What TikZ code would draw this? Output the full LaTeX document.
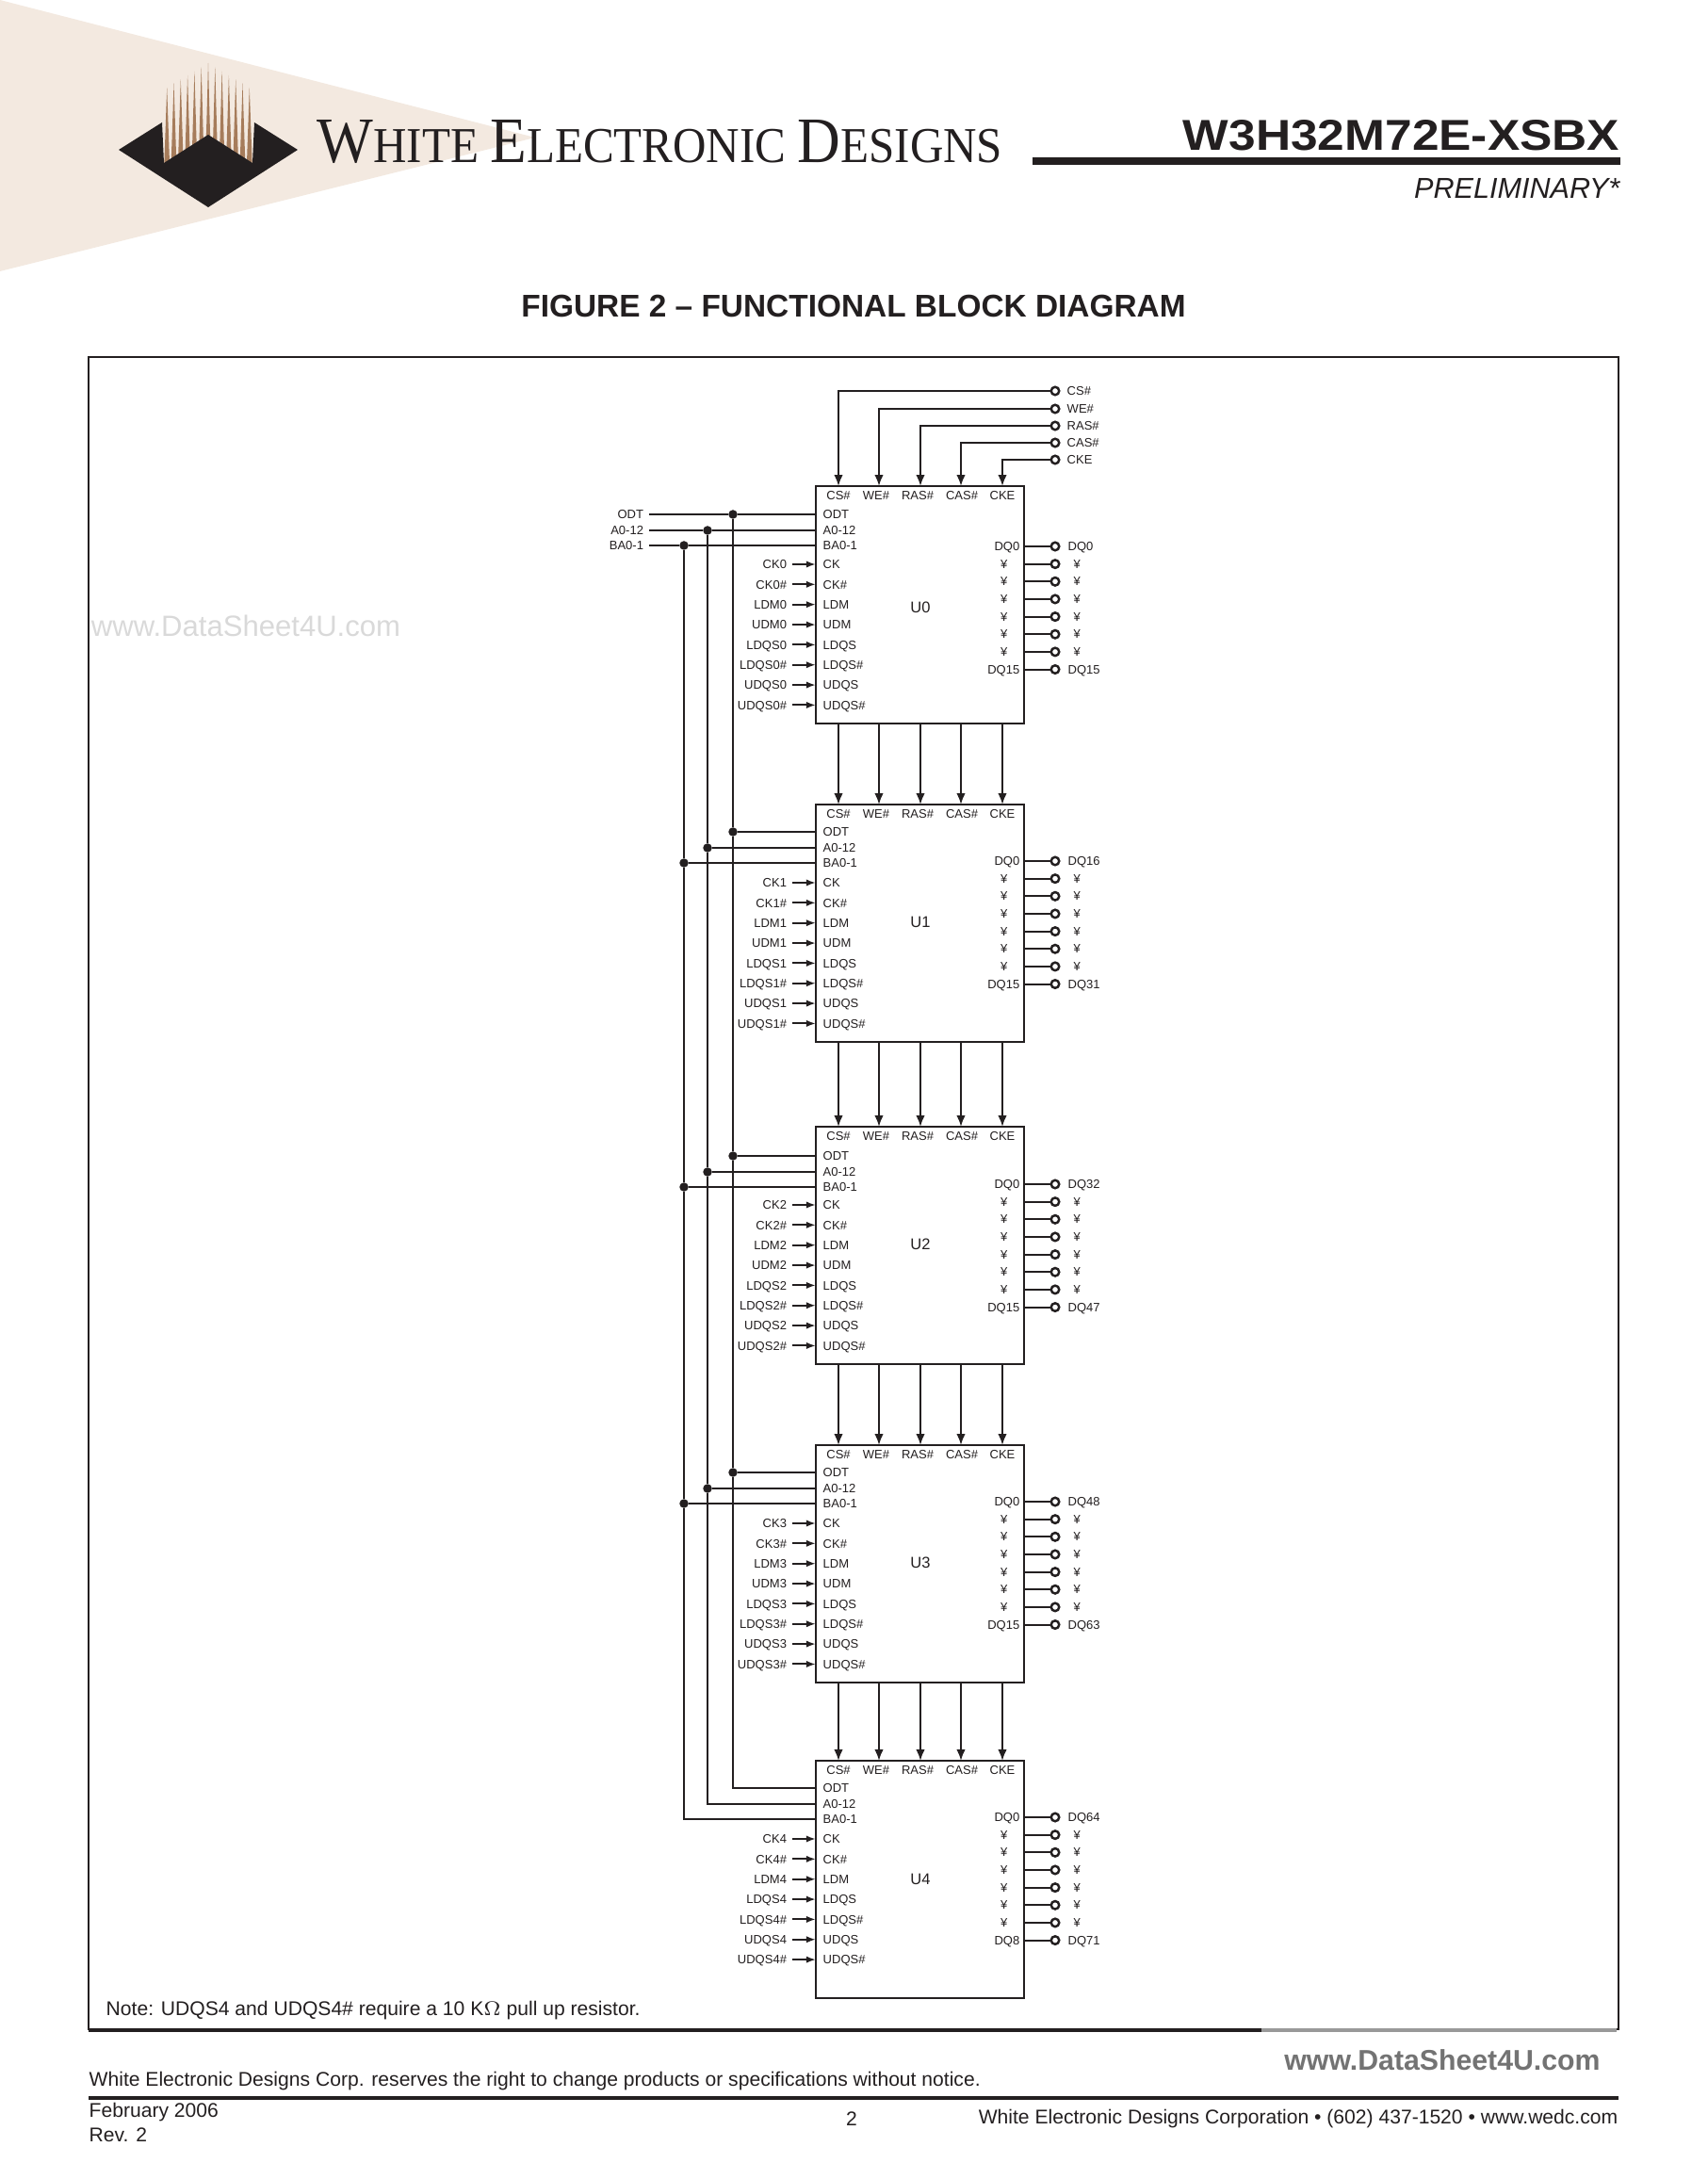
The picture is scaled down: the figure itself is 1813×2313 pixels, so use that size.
\documentclass[tikz,border=0pt]{standalone}
\usepackage{fontspec}
\setmainfont{Liberation Sans}
\newfontfamily\logofont{Liberation Serif}
\usetikzlibrary{arrows.meta}

\definecolor{inkblack}{HTML}{231F20}
\definecolor{wedgetan}{HTML}{F3E9E0}
\definecolor{spiketan}{HTML}{A67C5B}

\tikzset{
	chip/.style={draw=inkblack,line width=0.72pt,minimum width=2.21cm,minimum height=2.52cm,inner sep=0},
	pinlabel/.style={font=\fontsize{3.7}{4}\selectfont,text=inkblack,inner sep=0,text height=2.65pt,text depth=0pt},
	extlabel/.style={pinlabel,anchor=east,outer xsep=0.06cm,outer ysep=0},
	term/.style={circle,draw=inkblack,fill=white,line width=0.7pt,minimum size=0.085cm,inner sep=0},
	junction/.style={circle,fill=inkblack,minimum size=0.095cm,inner sep=0},
	wire/.style={draw=inkblack,line width=0.58pt},
	toparrow/.style={wire,-{Latex[length=3.4pt,width=2.7pt]}},
	sidearrow/.style={wire,-{Latex[length=2.9pt,width=2.1pt]}},
	pagetext/.style={inner sep=0,text=inkblack,font=\fontsize{6}{7}\selectfont},
}

\begin{document}
\begin{tikzpicture}[x=0.01cm,y=-0.01cm]
	\useasboundingbox (0,0) rectangle (1813,2313);

	% page header
	\fill[wedgetan] (0,0)--(568,146)--(0,288)--cycle;
	\foreach \i in {-6,...,6}
		\fill[spiketan] ({221+7.3*\i-3},178)--({221+7.3*\i},{67+4.3*abs(\i)})--({221+7.3*\i+3},178)--cycle;
	\fill[inkblack] (126,159)--(172,130)--(174,173)--(221,143)--(268,173)--(270,130)--(316,159)--(221,220)--cycle;
	\node[anchor=base west,inner sep=0,text=inkblack] (brand) at (336,173) {\resizebox{7.27cm}{0.45cm}{\logofont\fontsize{20}{20}\selectfont W\fontsize{15.5}{15.5}\selectfont HITE \fontsize{20}{20}\selectfont E\fontsize{15.5}{15.5}\selectfont LECTRONIC \fontsize{20}{20}\selectfont D\fontsize{15.5}{15.5}\selectfont ESIGNS}};
	\node[anchor=base east,inner sep=0,text=inkblack] (part) at (1720,160) {\resizebox{4.63cm}{0.32cm}{\bfseries W3H32M72E-XSBX}};
	\fill[inkblack] (1096,167) rectangle (1720,175);
	\node[pagetext,anchor=base east,font=\fontsize{8.7}{10}\selectfont\itshape] (status) at (1720,211) {PRELIMINARY*};
	\node[pagetext,anchor=base,font=\fontsize{9.5}{11}\selectfont\bfseries] (title) at (906,337) {FIGURE 2 -- FUNCTIONAL BLOCK DIAGRAM};
	\node[inner sep=0,text=black!15] (markone) at (261,664) {\resizebox{3.28cm}{!}{www.DataSheet4U.com}};

	% frame
	\draw[inkblack,line width=0.7pt] (94,379) rectangle (1718,2154);
	\draw[inkblack,line width=1.2pt] (94,2155)--(1339,2155);
	\draw[black!40,line width=1.2pt] (1339,2155)--(1716,2155);
	\node[pagetext,anchor=west] (note) at (112,2134) {Note: UDQS4 and UDQS4\# require a 10 K$\Omega$ pull up resistor.};

	% common control lines on top of U0
	\foreach \name/\key/\ypos in {CS\#/890/415,WE\#/933/434,RAS\#/977/452,CAS\#/1020/470,CKE/1064/488} {
		\node[term] (ctl\key) at (1120,\ypos) {};
		\node[pinlabel,anchor=west] (ctl\key-text) at (1132,\ypos) {\name};
	}

	% bus labels left of U0
	\node[extlabel] (odt) at (689,546) {ODT};
	\node[extlabel] (addr) at (689,563) {A0-12};
	\node[extlabel] (bank) at (689,579) {BA0-1};

	% the five devices
	\foreach \n/\ytop/\busy/\dqy/\namey/\dqlast/\dqfirst/\dqend in {0/516/30/64/129/DQ15/DQ0/DQ15,1/854/29/60/125/DQ15/DQ16/DQ31,2/1196/31/61/125/DQ15/DQ32/DQ47,3/1534/29/60/125/DQ15/DQ48/DQ63,4/1869/29/60/125/DQ8/DQ64/DQ71} {
		\node[chip] (u\n) at (976.5,\ytop+126) {};
		\node[pinlabel,font=\fontsize{4.7}{5}\selectfont,text height=3.4pt] (u\n-name) at (977,\ytop+\namey) {U\n};

		\foreach \name/\key/\lx in {CS\#/890/890,WE\#/933/930,RAS\#/977/974,CAS\#/1020/1021,CKE/1064/1064} {
			\coordinate (u\n-in\key) at (\key,\ytop);
			\coordinate (u\n-out\key) at (\key,\ytop+252);
			\node[pinlabel] (u\n-top\key) at (\lx,\ytop+10) {\name};
		}

		\foreach \name/\sig/\off in {ODT/odt/0,A0-12/addr/17,BA0-1/bank/33} {
			\coordinate (u\n-\sig) at (866,\ytop+\busy+\off);
			\node[pinlabel,anchor=west] (u\n-\sig-text) at (873,\ytop+\busy+\off) {\name};
		}

		\ifnum\n<4
			\def\pinlist{CK/,CK/\#,LDM/,UDM/,LDQS/,LDQS/\#,UDQS/,UDQS/\#}
		\else
			\def\pinlist{CK/,CK/\#,LDM/,LDQS/,LDQS/\#,UDQS/,UDQS/\#}
		\fi
		\foreach \stem/\tail [count=\i from 0] in \pinlist {
			\coordinate (u\n-pin\i) at (866,\ytop+83+21.35*\i);
			\node[extlabel] (u\n-ext\i) at (841,\ytop+83+21.35*\i) {\stem\n\tail};
			\node[pinlabel,anchor=west] (u\n-int\i) at (873,\ytop+83+21.35*\i) {\stem\tail};
			\draw[sidearrow] (u\n-ext\i) -- (u\n-pin\i);
		}

		\foreach \i/\dqin/\dqout/\ix/\ox in {0/DQ0/\dqfirst/1083/1133,1/¥/¥/1070/1139,2/¥/¥/1070/1139,3/¥/¥/1070/1139,4/¥/¥/1070/1139,5/¥/¥/1070/1139,6/¥/¥/1070/1139,7/\dqlast/\dqend/1083/1133} {
			\coordinate (u\n-dq\i) at (1087,\ytop+\dqy+18.65*\i);
			\node[term] (u\n-term\i) at (1120,\ytop+\dqy+18.65*\i) {};
			\node[pinlabel,anchor=east] (u\n-dqin\i) at (\ix,\ytop+\dqy+18.65*\i) {\dqin};
			\node[pinlabel,anchor=west] (u\n-dqout\i) at (\ox,\ytop+\dqy+18.65*\i) {\dqout};
			\draw[wire] (u\n-dq\i) -- (u\n-term\i);
		}
	}

	% junctions on the shared bus
	\foreach \sig/\x in {odt/778,addr/751,bank/726} {
		\foreach \n in {0,...,3} {
			\node[junction] (\sig\n) at (\x,0 |- u\n-\sig) {};
			\draw[wire] (\sig\n) -- (u\n-\sig);
		}
		\draw[wire] (\sig) -- (\sig0);
		\draw[wire] (\sig0) -- (\sig1);
		\draw[wire] (\sig1) -- (\sig2);
		\draw[wire] (\sig2) -- (\sig3);
		\draw[wire] (\sig3) |- (u4-\sig);
	}

	% control lines, chip to chip
	\foreach \key in {890,933,977,1020,1064} {
		\draw[toparrow] (ctl\key) -| (u0-in\key);
		\foreach \a/\c in {0/1,1/2,2/3,3/4}
			\draw[toparrow] (u\a-out\key) -- (u\c-in\key);
	}

	% page footer
	\node[inner sep=0,text=black!55] (marktwo) at (1531,2187) {\resizebox{3.35cm}{!}{\bfseries www.DataSheet4U.com}};
	\node[pagetext,anchor=west] (legal) at (94,2209) {White Electronic Designs Corp. reserves the right to change products or specifications without notice.};
	\fill[inkblack] (94,2225) rectangle (1718,2229);
	\node[pagetext,anchor=west] (date) at (94,2242) {February 2006};
	\node[pagetext,anchor=west] (rev) at (94,2266) {Rev. 2};
	\node[pagetext] (pageno) at (904,2249) {2};
	\node[pagetext,anchor=east] (contact) at (1718,2249) {White Electronic Designs Corporation • (602) 437-1520 • www.wedc.com};
\end{tikzpicture}
\end{document}
